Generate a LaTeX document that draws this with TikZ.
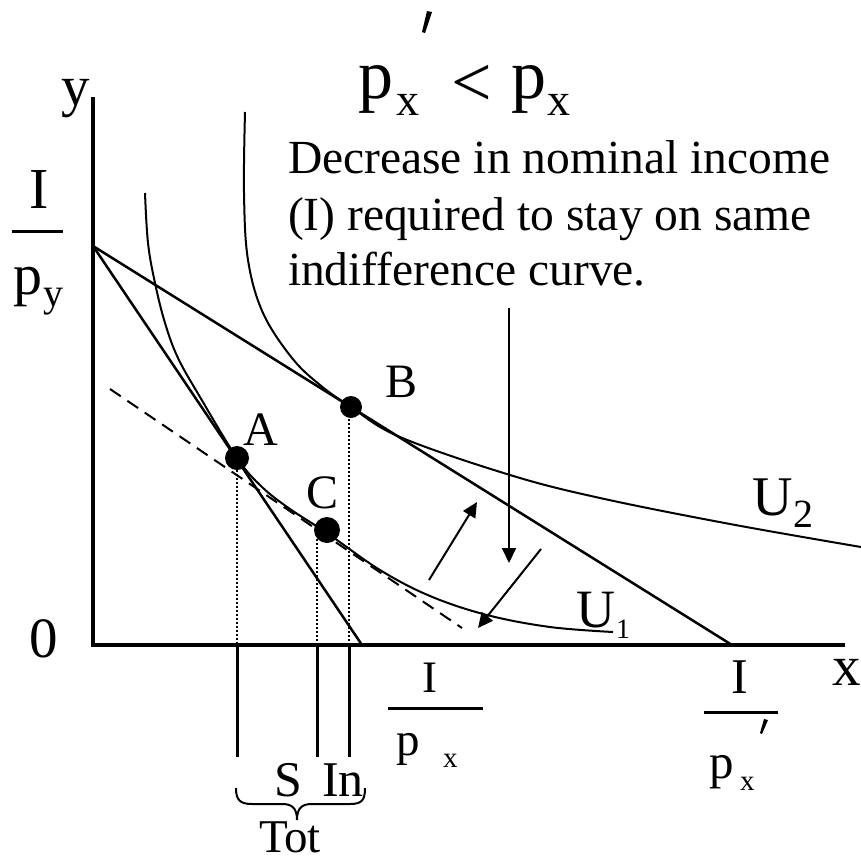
\documentclass[tikz,border=0pt]{standalone}
\usepackage{fontspec}
\setmainfont{Liberation Serif}
\usetikzlibrary{arrows.meta}
\newcommand{\fsz}[1]{\fontsize{#1}{#1}\selectfont}
\begin{document}
\begin{tikzpicture}[x=1pt,y=-1pt,
  txt/.style={inner sep=0pt,outer sep=0pt},
  axisline/.style={line width=3.5pt},
  budget/.style={line width=2.5pt},
  curve/.style={line width=2pt},
  dotmark/.style={circle,fill=black,inner sep=0pt},
  guide/.style={line width=2pt,dash pattern=on 2pt off 2pt},
  tick/.style={line width=3pt},
  arr/.style={line width=2pt,-{Triangle[length=15pt,width=14pt]}},
  fracbar/.style={line width=3pt}]
\useasboundingbox (0,0) rectangle (861,863);
\fill[white] (0,0) rectangle (861,863);

% axes
\coordinate (O) at (93,645);
\coordinate (Ytop) at (93,97);
\coordinate (Xend) at (845,645);
\draw[axisline] (Ytop) -- (O) -- (Xend);
\node[txt,anchor=base west,font=\fsz{57}] (ylab) at (61,105) {y};
\node[txt,anchor=base west,font=\fsz{57}] (xlab) at (832,685) {x};
\node[txt,anchor=base west,font=\fsz{57}] (zero) at (29,657) {0};

% I/p_y
\node[txt,anchor=base,font=\fsz{58}] (Iy1) at (39,208) {I};
\coordinate (bya) at (12,231); \coordinate (byb) at (63,231);
\draw[fracbar] (bya) -- (byb);
\node[txt,anchor=base west,font=\fsz{58}] (py) at (13,294) {p};
\node[txt,anchor=base west,font=\fsz{40}] (pys) at (43,306) {y};

% budget lines
\coordinate (Iy) at (93,246);
\coordinate (Ix) at (362,645);
\coordinate (Ixp) at (732,645);
\draw[budget] (Iy) -- (Ix);
\draw[budget] (Iy) -- (Ixp);

% dashed line
\coordinate (da) at (110,389);
\coordinate (db) at (462,628);
\draw[line width=2pt,dash pattern=on 13pt off 8pt] (da) -- (db);

% indifference curves
\draw[curve] plot[smooth,tension=0.6] coordinates {(145,193) (148,243) (155,283) (165,323) (178,358) (200,397) (237,458) (262,487) (290,509) (327,533) (380,570) (430,596) (487,615) (550,627) (613,632)};
\draw[curve] plot[smooth,tension=0.6] coordinates {(245,112) (244,193) (248,260) (263,313) (292,358) (320,385) (351,407) (400,437) (510,475) (600,498) (730,524) (861,547)};

% points
\node[dotmark,minimum size=24pt] (A) at (237,458) {};
\node[dotmark,minimum size=22pt] (B) at (351,407) {};
\node[dotmark,minimum size=26pt] (C) at (327,530) {};
\node[txt,anchor=base west,font=\fsz{48}] (Alab) at (243,445) {A};
\node[txt,anchor=base west,font=\fsz{48}] (Blab) at (385,397) {B};
\node[txt,anchor=base west,font=\fsz{48}] (Clab) at (306,508) {C};

% dotted guides
\coordinate (ga) at (237,645);
\coordinate (gct) at (317,535); \coordinate (gc) at (317,645);
\coordinate (gbt) at (349,407); \coordinate (gb) at (349,645);
\draw[guide] (A.center) -- (ga);
\draw[guide] (gct) -- (gc);
\draw[guide] (gbt) -- (gb);

% ticks below axis
\coordinate (ta) at (237,757); \coordinate (tc) at (317,757); \coordinate (tb) at (349,757);
\draw[tick] (ga) -- (ta);
\draw[tick] (gc) -- (tc);
\draw[tick] (gb) -- (tb);

% brace
\draw[line width=2pt] (236,788) .. controls (236,800) and (240,804) .. (252,804) -- (282,804) .. controls (292,804) and (297,808) .. (297,820) .. controls (297,808) and (302,804) .. (312,804) -- (350,804) .. controls (362,804) and (365,800) .. (365,788);
\node[txt,anchor=base west,font=\fsz{50}] (S) at (274,796) {S};
\node[txt,anchor=base west,font=\fsz{50}] (In) at (322,796) {In};
\node[txt,anchor=base west,font=\fsz{47}] (Tot) at (259,852) {Tot};

% I/p_x
\node[txt,anchor=base,font=\fsz{45}] (Ix1) at (430,692) {I};
\coordinate (bxa) at (388,708); \coordinate (bxb) at (483,708);
\draw[fracbar] (bxa) -- (bxb);
\node[txt,anchor=base west,font=\fsz{47}] (px) at (396,755) {p};
\node[txt,anchor=base west,font=\fsz{29}] (pxs) at (443,767) {x};

% I/p_x'
\node[txt,anchor=base,font=\fsz{50}] (Ixp1) at (740,693) {I};
\coordinate (bpa) at (704,712); \coordinate (bpb) at (778,712);
\draw[fracbar] (bpa) -- (bpb);
\fill (764,719) -- (768,720) -- (762,734) -- (760,733) -- cycle;
\node[txt,anchor=base west,font=\fsz{49}] (pxp) at (709,778) {p};
\node[txt,anchor=base west,font=\fsz{29}] (pxps) at (740,790) {x};

% title
\node[txt,anchor=base west,font=\fsz{70}] (t1) at (358,98) {p};
\node[txt,anchor=base west,font=\fsz{46}] (t1s) at (396,115) {x};
\fill (427,11) -- (432,12) -- (425,33) -- (422,32) -- cycle;
\node[txt,anchor=center,font=\fsz{72}] (lt) at (472,86) {<};
\node[txt,anchor=base west,font=\fsz{70}] (t2) at (511,98) {p};
\node[txt,anchor=base west,font=\fsz{46}] (t2s) at (547,115) {x};

% explanation
\node[txt,anchor=base west,font=\fsz{47.5}] (l1) at (288,173) {Decrease in nominal income};
\node[txt,anchor=base west,font=\fsz{47.5}] (l2) at (288,230) {(I) required to stay on same};
\node[txt,anchor=base west,font=\fsz{47.5}] (l3) at (288,285) {indifference curve.};

% arrows
\coordinate (v1) at (509,308); \coordinate (v2) at (509,563);
\draw[arr] (v1) -- (v2);
\coordinate (u1) at (429,580); \coordinate (u2) at (477,502);
\draw[arr] (u1) -- (u2);
\coordinate (d1) at (541,549); \coordinate (d2) at (478,628);
\draw[arr] (d1) -- (d2);

% curve labels
\node[txt,anchor=base west,font=\fsz{54}] (U1) at (576,627) {U};
\node[txt,anchor=base west,font=\fsz{28}] (U1s) at (616,638) {1};
\node[txt,anchor=base west,font=\fsz{56}] (U2) at (752,515) {U};
\node[txt,anchor=base west,font=\fsz{40}] (U2s) at (793,527) {2};
\end{tikzpicture}
\end{document}
